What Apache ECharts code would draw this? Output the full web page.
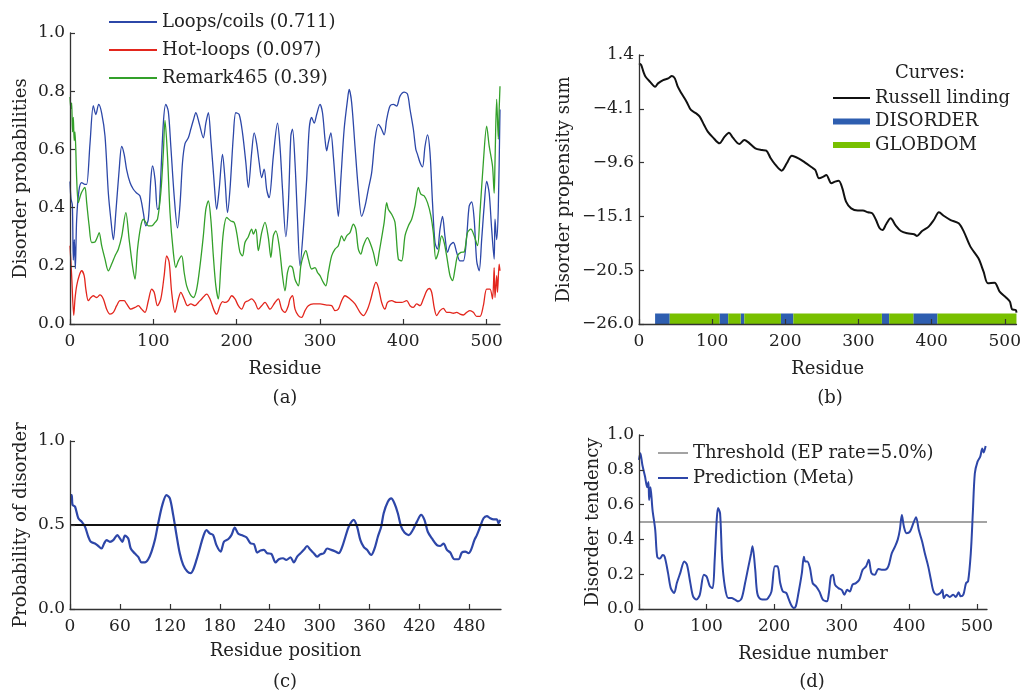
<!DOCTYPE html>
<html>
<head>
<meta charset="utf-8">
<script src="https://cdn.jsdelivr.net/npm/echarts@6/dist/echarts.min.js"></script>
<style>
  html, body { margin: 0; padding: 0; background: #fff; }
  #chart { width: 1024px; height: 690px; }
</style>
</head>
<body>
<div id="chart"></div>
<script>
// (a) disorder probabilities, [residue, value]
const loopsCoils = [[0,0.49],[1.2,0.43],[2.8,0.41],[4,0.22],[5.2,0.29],[6.4,0.19],[8,0.36],[10.8,0.46],[14,0.486],[18,0.48],[20,0.48],[24,0.62],[28,0.75],[31,0.72],[34.4,0.755],[38,0.725],[42,0.646],[46,0.45],[49,0.36],[52,0.29],[55,0.383],[59,0.53],[62,0.61],[65,0.583],[68,0.53],[72,0.486],[76,0.463],[80,0.45],[84,0.44],[88,0.383],[91,0.337],[94,0.36],[97,0.497],[99,0.543],[102,0.497],[105,0.394],[107,0.40],[112,0.69],[115,0.755],[118,0.73],[121,0.61],[125,0.44],[129,0.33],[132,0.41],[135,0.555],[138,0.62],[142,0.64],[145,0.67],[148,0.70],[151,0.726],[155,0.69],[160,0.64],[163,0.69],[166,0.726],[169,0.635],[173,0.486],[176,0.394],[179,0.463],[183,0.583],[186,0.497],[189,0.383],[192,0.463],[196,0.646],[199,0.726],[203,0.72],[207,0.657],[211,0.555],[214,0.469],[218,0.589],[221,0.657],[224,0.62],[227,0.555],[230,0.503],[233,0.532],[236,0.463],[239,0.434],[244,0.577],[249,0.69],[252,0.61],[255,0.463],[259,0.30],[262,0.41],[265,0.646],[267,0.67],[270,0.555],[273,0.36],[276,0.20],[280,0.326],[284,0.497],[287,0.67],[290,0.71],[293,0.69],[296,0.72],[300,0.755],[303,0.726],[306,0.635],[308,0.595],[310,0.623],[313,0.657],[316,0.577],[319,0.463],[322,0.37],[325,0.497],[329,0.67],[333,0.77],[335,0.806],[338,0.76],[342,0.61],[346,0.463],[350,0.37],[354,0.405],[358,0.463],[362,0.52],[366,0.635],[370,0.686],[373,0.675],[377,0.65],[380,0.703],[384,0.749],[388,0.755],[392,0.749],[396,0.783],[401,0.797],[405,0.79],[408,0.738],[412,0.67],[415,0.60],[417,0.583],[420,0.555],[423,0.54],[426,0.61],[429,0.65],[432,0.589],[435,0.417],[438,0.28],[441,0.257],[444,0.326],[447,0.37],[450,0.30],[453,0.246],[456,0.27],[460,0.28],[464,0.246],[468,0.217],[472,0.217],[476,0.30],[479,0.405],[482,0.42],[485,0.36],[488,0.217],[491,0.183],[494,0.29],[497,0.405],[500,0.49],[503,0.45],[506,0.326],[509,0.223],[510,0.36],[512,0.29],[514,0.405],[516,0.737]];
const hotLoops = [[0,0.269],[2,0.166],[4.5,0.03],[6,0.086],[8,0.131],[11,0.166],[14,0.183],[17,0.166],[19,0.12],[22,0.08],[25,0.091],[28,0.097],[32,0.091],[36,0.10],[40,0.086],[44,0.051],[48,0.034],[52,0.04],[56,0.063],[60,0.08],[65,0.08],[68,0.069],[73,0.051],[78,0.057],[82,0.063],[86,0.051],[90,0.04],[94,0.08],[98,0.12],[101,0.109],[105,0.063],[109,0.086],[113,0.166],[116,0.234],[119,0.212],[122,0.109],[126,0.04],[130,0.086],[133,0.109],[137,0.086],[141,0.063],[145,0.069],[150,0.063],[154,0.074],[158,0.086],[164,0.103],[168,0.086],[173,0.046],[176,0.034],[180,0.063],[183,0.077],[186,0.074],[190,0.08],[194,0.097],[198,0.086],[202,0.063],[206,0.051],[210,0.074],[214,0.08],[218,0.086],[222,0.074],[226,0.051],[230,0.063],[234,0.074],[240,0.051],[246,0.074],[250,0.086],[254,0.051],[258,0.04],[262,0.063],[264,0.086],[267,0.097],[270,0.051],[274,0.029],[278,0.023],[282,0.046],[286,0.063],[292,0.069],[300,0.069],[308,0.065],[314,0.063],[318,0.046],[322,0.051],[326,0.08],[330,0.097],[336,0.086],[342,0.069],[348,0.04],[352,0.029],[357,0.051],[361,0.086],[364,0.12],[367,0.143],[370,0.126],[374,0.074],[378,0.051],[381,0.074],[386,0.08],[392,0.074],[398,0.074],[404,0.08],[408,0.063],[412,0.057],[416,0.069],[420,0.063],[424,0.086],[428,0.114],[431,0.122],[434,0.109],[437,0.057],[440,0.029],[444,0.046],[448,0.054],[452,0.04],[456,0.04],[460,0.037],[464,0.04],[468,0.034],[472,0.031],[476,0.04],[480,0.046],[484,0.04],[488,0.026],[492,0.026],[496,0.063],[500,0.12],[504,0.12],[507,0.086],[509,0.194],[510,0.091],[512,0.166],[513,0.109],[515,0.206],[516,0.183]];
const remark465 = [[0,0.78],[1,0.74],[2,0.76],[3,0.66],[4,0.71],[5,0.63],[6,0.66],[8,0.50],[10,0.417],[13,0.446],[16,0.463],[18,0.469],[20,0.417],[23,0.337],[26,0.28],[30,0.282],[33,0.30],[35,0.314],[38,0.269],[42,0.223],[46,0.183],[50,0.206],[54,0.234],[58,0.257],[62,0.30],[67,0.383],[71,0.29],[75,0.20],[78,0.154],[81,0.257],[85,0.337],[88,0.36],[91,0.349],[94,0.337],[98,0.337],[102,0.349],[105,0.36],[109,0.452],[112,0.589],[114,0.70],[117,0.577],[120,0.383],[124,0.246],[127,0.194],[130,0.217],[134,0.234],[137,0.177],[140,0.131],[144,0.103],[148,0.091],[152,0.12],[156,0.20],[160,0.303],[163,0.394],[166,0.423],[169,0.36],[172,0.234],[175,0.131],[178,0.086],[181,0.20],[184,0.314],[188,0.366],[193,0.354],[197,0.349],[200,0.314],[204,0.246],[207,0.234],[210,0.28],[214,0.30],[218,0.326],[220,0.309],[223,0.326],[226,0.252],[230,0.314],[234,0.349],[238,0.297],[241,0.229],[244,0.303],[247,0.32],[251,0.269],[255,0.166],[258,0.114],[261,0.177],[264,0.20],[267,0.194],[270,0.154],[274,0.131],[277,0.20],[280,0.234],[283,0.252],[286,0.223],[290,0.189],[294,0.194],[297,0.177],[300,0.166],[304,0.143],[307,0.131],[310,0.177],[314,0.234],[318,0.257],[322,0.269],[326,0.303],[329,0.286],[332,0.303],[336,0.314],[340,0.343],[343,0.326],[346,0.257],[349,0.24],[352,0.269],[357,0.297],[360,0.28],[364,0.246],[368,0.20],[371,0.246],[374,0.297],[377,0.349],[380,0.417],[382,0.394],[386,0.377],[390,0.349],[394,0.223],[398,0.217],[402,0.303],[406,0.337],[410,0.36],[414,0.406],[418,0.469],[421,0.446],[425,0.44],[429,0.417],[433,0.372],[436,0.314],[439,0.223],[442,0.246],[446,0.303],[449,0.28],[452,0.234],[456,0.166],[459,0.149],[462,0.189],[465,0.234],[469,0.246],[473,0.248],[477,0.314],[481,0.326],[485,0.303],[489,0.269],[492,0.383],[496,0.555],[500,0.68],[503,0.612],[507,0.543],[509,0.45],[510,0.555],[512,0.772],[514,0.635],[515,0.737],[516,0.817]];

// (b) propensity sum and domain segments [start, end]
const russellLinding = [[0,0.55],[3,0.38],[6,-0.30],[9,-0.81],[15,-1.32],[22,-1.83],[26,-1.49],[33,-1.15],[40,-0.98],[45,-0.74],[49,-0.98],[53,-1.83],[58,-2.5],[65,-3.35],[71,-4.2],[78,-4.54],[83,-4.88],[89,-5.73],[94,-6.41],[101,-6.99],[110,-7.6],[117,-6.92],[123,-6.51],[128,-6.99],[137,-7.66],[144,-7.26],[150,-7.53],[159,-8.11],[168,-8.28],[174,-8.34],[180,-9.12],[186,-9.74],[195,-10.38],[202,-9.63],[209,-8.85],[218,-9.12],[227,-9.56],[236,-10.04],[241,-10.31],[246,-11.16],[252,-10.99],[256,-10.82],[263,-11.67],[268,-11.5],[273,-11.4],[278,-12.18],[283,-13.54],[290,-14.22],[299,-14.45],[306,-14.45],[313,-14.62],[319,-14.73],[324,-15.41],[329,-16.25],[333,-16.42],[338,-15.81],[344,-15.24],[351,-15.98],[358,-16.53],[367,-16.76],[376,-16.86],[380,-17.03],[387,-16.53],[396,-16.08],[403,-15.41],[410,-14.62],[417,-15.0],[426,-15.41],[437,-15.75],[444,-16.59],[453,-18.12],[464,-19.31],[471,-20.67],[477,-21.86],[486,-21.79],[493,-22.7],[502,-23.32],[507,-23.72],[510,-24.5],[515,-24.57],[516,-24.84]];
const disorderSegs = [[22,42],[110,122],[139,144],[194,211],[332,342],[375,408]];
const globdomSegs = [[42,110],[122,139],[144,194],[211,332],[342,375],[408,516]];
const bTicks = [-26, -20.52, -15.04, -9.56, -4.08, 1.4];
const bTickLabels = ['\u221226.0', '\u221220.5', '\u221215.1', '\u22129.6', '\u22124.1', '1.4'];

// (c) probability of disorder
const probDisorder = [[0,0.678],[2,0.678],[3,0.62],[6,0.61],[10,0.54],[14,0.52],[18,0.49],[22,0.43],[25,0.40],[30,0.39],[34,0.375],[38,0.36],[41,0.39],[44,0.41],[48,0.40],[52,0.41],[57,0.44],[60,0.42],[63,0.40],[66,0.437],[70,0.42],[73,0.36],[78,0.33],[82,0.31],[86,0.277],[90,0.277],[94,0.296],[98,0.342],[102,0.41],[106,0.51],[111,0.62],[116,0.678],[120,0.658],[124,0.56],[128,0.44],[132,0.33],[136,0.263],[141,0.223],[145,0.213],[148,0.233],[152,0.292],[156,0.36],[160,0.43],[164,0.47],[168,0.45],[172,0.44],[176,0.38],[181,0.342],[185,0.40],[190,0.415],[194,0.44],[198,0.484],[202,0.45],[206,0.44],[212,0.427],[217,0.39],[221,0.387],[225,0.336],[229,0.348],[233,0.352],[237,0.332],[242,0.328],[247,0.277],[251,0.296],[256,0.302],[260,0.292],[265,0.308],[269,0.277],[273,0.312],[277,0.332],[281,0.352],[285,0.375],[289,0.352],[293,0.332],[297,0.312],[301,0.326],[305,0.332],[309,0.36],[314,0.352],[319,0.342],[323,0.332],[327,0.368],[331,0.43],[335,0.49],[341,0.53],[345,0.49],[349,0.41],[353,0.37],[357,0.352],[362,0.322],[366,0.36],[370,0.43],[374,0.49],[377,0.57],[382,0.638],[386,0.658],[390,0.628],[394,0.57],[398,0.49],[402,0.455],[407,0.44],[412,0.47],[417,0.52],[422,0.56],[426,0.53],[430,0.46],[435,0.42],[441,0.38],[445,0.375],[449,0.39],[453,0.352],[457,0.336],[462,0.296],[467,0.296],[471,0.336],[475,0.342],[479,0.332],[482,0.352],[486,0.41],[489,0.44],[493,0.49],[497,0.54],[501,0.553],[505,0.54],[509,0.533],[513,0.533],[515,0.51],[517,0.53]];
const cThreshold = 0.5;

// (d) meta prediction
const metaPrediction = [[0,0.857],[2,0.895],[5,0.828],[9,0.76],[12,0.70],[14,0.73],[15,0.627],[17,0.70],[20,0.57],[24,0.455],[27,0.30],[31,0.29],[35,0.31],[38,0.30],[43,0.206],[47,0.12],[52,0.092],[56,0.149],[61,0.206],[67,0.273],[71,0.254],[76,0.149],[80,0.073],[85,0.054],[90,0.082],[96,0.197],[100,0.187],[105,0.13],[109,0.12],[112,0.283],[115,0.512],[117,0.58],[120,0.55],[123,0.283],[127,0.13],[132,0.063],[137,0.063],[142,0.054],[147,0.044],[152,0.063],[157,0.149],[162,0.245],[166,0.32],[168,0.36],[172,0.226],[175,0.092],[180,0.057],[187,0.054],[191,0.063],[196,0.10],[201,0.245],[205,0.245],[209,0.149],[213,0.10],[218,0.092],[221,0.063],[225,0.025],[229,0.006],[232,0.015],[236,0.092],[241,0.206],[244,0.30],[246,0.273],[249,0.273],[253,0.235],[257,0.149],[262,0.13],[267,0.10],[272,0.054],[278,0.044],[281,0.092],[284,0.187],[287,0.197],[290,0.14],[295,0.12],[300,0.11],[304,0.082],[308,0.11],[312,0.10],[316,0.14],[321,0.149],[326,0.168],[331,0.226],[336,0.245],[340,0.283],[344,0.206],[349,0.197],[354,0.23],[359,0.226],[364,0.226],[369,0.245],[374,0.32],[379,0.36],[383,0.40],[386,0.455],[389,0.54],[392,0.474],[396,0.436],[401,0.445],[406,0.493],[410,0.528],[414,0.455],[419,0.388],[423,0.32],[428,0.245],[432,0.168],[436,0.10],[441,0.082],[446,0.092],[449,0.11],[451,0.063],[455,0.082],[460,0.069],[465,0.082],[469,0.069],[473,0.096],[476,0.073],[480,0.082],[484,0.149],[487,0.159],[491,0.32],[494,0.55],[497,0.78],[501,0.847],[505,0.876],[508,0.923],[510,0.90],[513,0.937]];
const dThreshold = 0.5;

const FONT = 'DejaVu Serif';
const TEXT = '#222';
const AXIS = '#333';
const STRIP_Y = -25.46; // strip sits on the bottom of panel (b)

const segLine = (segs) => {
  const out = [];
  segs.forEach(([s, e]) => { out.push([s, STRIP_Y], [e, STRIP_Y], [e, '-']); });
  return out;
};

const xAxisOf = (gridIndex, max, interval, name, nameGap) => ({
  type: 'value', gridIndex, min: 0, max, interval,
  name, nameLocation: 'middle', nameGap,
  nameTextStyle: { fontFamily: FONT, fontSize: 18, color: TEXT },
  axisLine: { show: true, onZero: false, lineStyle: { color: AXIS, width: 1.3 } },
  axisTick: { show: true, inside: true, length: 5, lineStyle: { color: AXIS, width: 1.2 } },
  axisLabel: { fontFamily: FONT, fontSize: 17, color: TEXT, margin: 9, showMaxLabel: false },
  splitLine: { show: false },
  z: 5,
});

const yAxisOf = (gridIndex, min, max, interval, name, nameGap) => ({
  type: 'value', gridIndex, min, max, interval,
  name, nameLocation: 'middle', nameGap,
  nameTextStyle: { fontFamily: FONT, fontSize: 18, color: TEXT },
  axisLine: { show: true, onZero: false, lineStyle: { color: AXIS, width: 1.3 } },
  axisTick: { show: true, inside: true, length: 5, lineStyle: { color: AXIS, width: 1.2 } },
  axisLabel: { fontFamily: FONT, fontSize: 17, color: TEXT, margin: 5, formatter: (v) => v.toFixed(1) },
  splitLine: { show: false },
  z: 5,
});

const bY = yAxisOf(1, -26, 1.4, null, 'Disorder propensity sum', 66);
delete bY.interval;
bY.axisLabel = {
  fontFamily: FONT, fontSize: 17, color: TEXT, margin: 5,
  customValues: bTicks,
  formatter: (v) => {
    let best = 0;
    bTicks.forEach((t, i) => { if (Math.abs(t - v) < Math.abs(bTicks[best] - v)) best = i; });
    return bTickLabels[best];
  },
};
bY.axisTick.customValues = bTicks;

const line = (name, data, xi, color, width, extra) => Object.assign({
  name, type: 'line', data, xAxisIndex: xi, yAxisIndex: xi,
  symbol: 'none', smooth: 0.3, lineStyle: { color, width }, itemStyle: { color },
  z: 2,
}, extra || {});

const legendBase = {
  orient: 'vertical', selectedMode: false, padding: 0,
  icon: 'inherit',
  itemStyle: { opacity: 0 },
  textStyle: { fontFamily: FONT, fontSize: 18, color: TEXT },
};

const textAt = (text, x, y) => ({
  type: 'text', x, y,
  style: { text, fontFamily: FONT, fontSize: 18, fill: TEXT, align: 'center', verticalAlign: 'middle' },
});

const option = {
  animation: false,
  backgroundColor: '#fff',
  grid: [
    { left: 70, top: 33, width: 430, height: 291 },
    { left: 639, top: 55, width: 382, height: 269 },
    { left: 70, top: 441, width: 431, height: 168 },
    { left: 639, top: 435, width: 348, height: 174 },
  ],
  xAxis: [
    xAxisOf(0, 516, 100, 'Residue', 36),
    xAxisOf(1, 516, 100, 'Residue', 36),
    xAxisOf(2, 518, 60, 'Residue position', 33),
    xAxisOf(3, 515, 100, 'Residue number', 36),
  ],
  yAxis: [
    yAxisOf(0, 0, 1, 0.2, 'Disorder probabilities', 40),
    bY,
    yAxisOf(2, 0, 1, 0.5, 'Probability of disorder', 40),
    yAxisOf(3, 0, 1, 0.2, 'Disorder tendency', 37),
  ],
  legend: [
    Object.assign({}, legendBase, {
      left: 108, top: 13, itemWidth: 48, itemHeight: 14, itemGap: 10,
      data: ['Loops/coils (0.711)', 'Hot-loops (0.097)', 'Remark465 (0.39)'],
    }),
    Object.assign({}, legendBase, {
      left: 830, top: 89, itemWidth: 37, itemHeight: 14, itemGap: 5.5,
      data: [
        { name: 'Russell linding' },
        { name: 'DISORDER', lineStyle: { width: 6 } },
        { name: 'GLOBDOM', lineStyle: { width: 6 } },
      ],
    }),
    Object.assign({}, legendBase, {
      left: 657, top: 444, itemWidth: 30, itemHeight: 14, itemGap: 7,
      data: ['Threshold (EP rate=5.0%)', 'Prediction (Meta)'],
    }),
  ],
  graphic: [
    textAt('(a)', 285, 398),
    textAt('(b)', 830, 398),
    textAt('(c)', 285, 682),
    textAt('(d)', 812, 682),
    textAt('Curves:', 930, 73),
  ],
  series: [
    line('Loops/coils (0.711)', loopsCoils, 0, '#2c47a8', 1.3),
    line('Hot-loops (0.097)', hotLoops, 0, '#e3261d', 1.3),
    line('Remark465 (0.39)', remark465, 0, '#33a02a', 1.3),

    line('Russell linding', russellLinding, 1, '#111', 2),
    line('DISORDER', segLine(disorderSegs), 1, '#2e5eb0', 10.5, { smooth: false, lineStyle: { color: '#2e5eb0', width: 10.5, cap: 'butt' }, z: 1 }),
    line('GLOBDOM', segLine(globdomSegs), 1, '#78c000', 10.5, { smooth: false, lineStyle: { color: '#78c000', width: 10.5, cap: 'butt' }, z: 1 }),

    line('Probability of disorder', probDisorder, 2, '#2d46a8', 2.2),
    line('threshold c', [[0, cThreshold], [518, cThreshold]], 2, '#111', 2, { smooth: false }),

    line('Threshold (EP rate=5.0%)', [[0, dThreshold], [515, dThreshold]], 3, '#a3a3a3', 2.2, { smooth: false }),
    line('Prediction (Meta)', metaPrediction, 3, '#2d46a8', 2),
  ],
};

const chartInstance = echarts.init(document.getElementById('chart'));
chartInstance.setOption(option);
</script>
</body>
</html>
